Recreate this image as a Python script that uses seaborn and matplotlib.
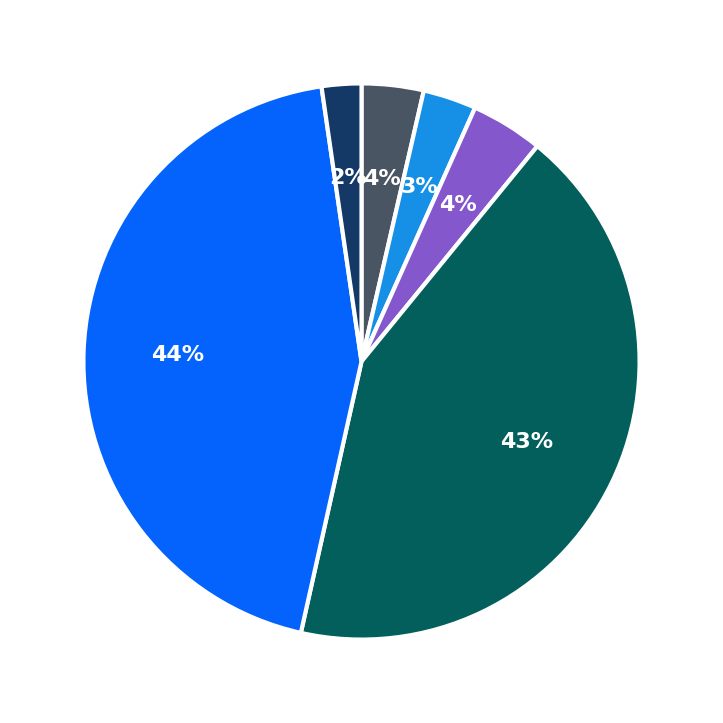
import matplotlib
matplotlib.use("Agg")
import matplotlib.pyplot as plt
import seaborn as sns

sns.set_theme(style="white")

# slices, clockwise from 12 o'clock
categories = ["Gray", "Light blue", "Purple", "Teal", "Blue", "Navy"]
values = [3.6, 3.1, 4.2, 42.6, 44.2, 2.3]
colors = ["#4a5563", "#1690e6", "#8457cc", "#025f5c", "#0363fc", "#143966"]

fig = plt.figure(figsize=(7.23, 7.23), dpi=100)
ax = fig.add_axes([0, 0, 1, 1])
ax.pie(values, colors=colors, startangle=90, counterclock=False,
       autopct="%1.0f%%", pctdistance=0.66,
       wedgeprops=dict(edgecolor="white", linewidth=3),
       textprops=dict(color="white", fontsize=16, fontweight="bold"))
ax.set_xlim(-1.30, 1.30)
ax.set_ylim(-1.30, 1.30)
ax.set_aspect("equal")
ax.axis("off")
fig.savefig("out.png", dpi=100, facecolor="white")
